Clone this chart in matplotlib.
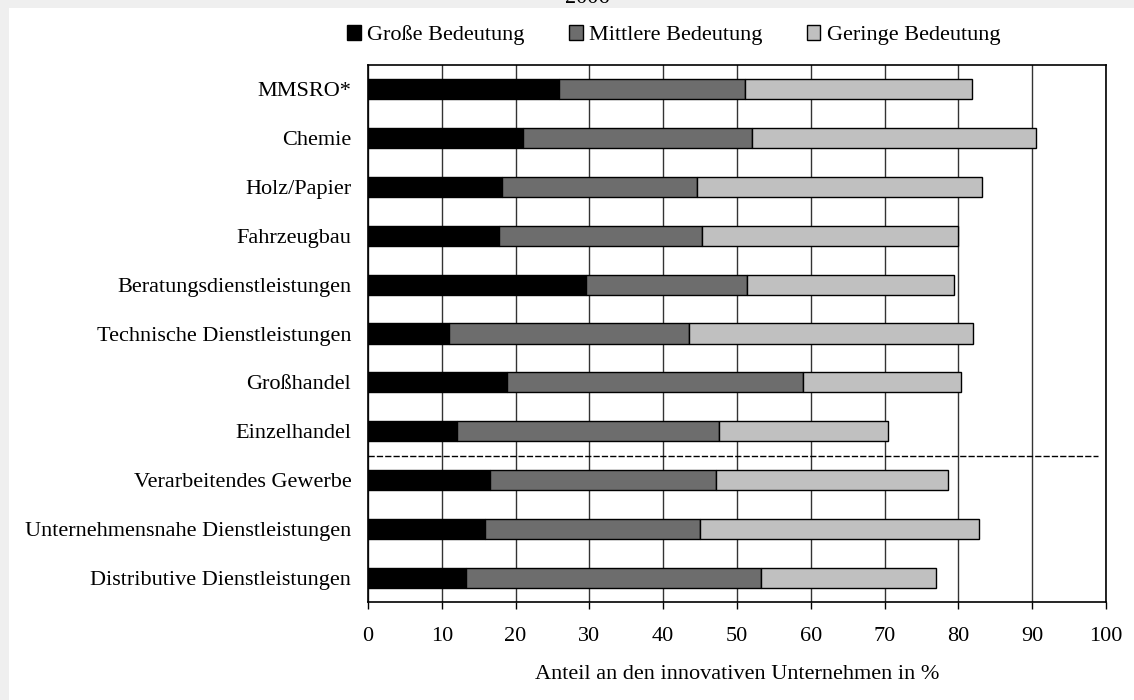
import numpy as np
import matplotlib.pyplot as plt
from matplotlib.patches import Rectangle

# categories from top to bottom
branchen = ['MMSRO*', 'Chemie', 'Holz/Papier', 'Fahrzeugbau',
            'Beratungsdienstleistungen', 'Technische Dienstleistungen',
            'Großhandel', 'Einzelhandel', 'Verarbeitendes Gewerbe',
            'Unternehmensnahe Dienstleistungen', 'Distributive Dienstleistungen']

# shares in %
gross =    [25.9, 21.0, 18.2, 17.7, 29.5, 11.0, 18.8, 12.1, 16.5, 15.9, 13.3]
mittel =   [25.2, 31.1, 26.4, 27.6, 21.8, 32.5, 40.1, 35.5, 30.6, 29.1, 40.0]
gering =   [30.8, 38.4, 38.6, 34.6, 28.1, 38.5, 21.5, 22.9, 31.5, 37.8, 23.7]

serien = ['Große Bedeutung', 'Mittlere Bedeutung', 'Geringe Bedeutung']
farben = ['#000000', '#6d6d6d', '#c0c0c0']

plt.rcParams['font.family'] = ['Liberation Serif', 'DejaVu Serif']
FS = 16

fig = plt.figure(figsize=(11.34, 7.0), dpi=100)
fig.patch.set_facecolor('white')
# light grey strips at the top and left edge
fig.patches.append(Rectangle((0, 1 - 8/700), 1, 8/700, transform=fig.transFigure,
                             facecolor='#efefef', edgecolor='none', zorder=-1))
fig.patches.append(Rectangle((0, 0), 9/1134, 1, transform=fig.transFigure,
                             facecolor='#efefef', edgecolor='none', zorder=-1))
fig.text(587/1134, 1 - 3/700, '2006', ha='center', va='baseline', fontsize=FS, color='black')

ax = fig.add_axes([368/1134, 1 - 602/700, 738/1134, 537/700])

y = np.arange(len(branchen))
links = np.zeros(len(branchen))
for werte, name, farbe in zip([gross, mittel, gering], serien, farben):
    ax.barh(y, werte, left=links, height=0.41, color=farbe, edgecolor='black',
            linewidth=1.0, label=name, zorder=3)
    links = links + np.array(werte)

ax.axhline(7.5, xmin=0, xmax=0.989, color='black', linestyle=(0, (4.5, 1.5)), linewidth=1.0, zorder=4)

ax.set_xlim(0, 100)
ax.set_ylim(len(branchen) - 0.5, -0.5)
ax.set_xticks(np.arange(0, 101, 10))
ax.set_yticks(y)
ax.set_yticklabels(branchen)
ax.tick_params(axis='y', length=0, pad=12, labelsize=FS)
ax.tick_params(axis='x', length=5, width=1, direction='out', pad=13, labelsize=FS)
ax.xaxis.grid(True, color='#333333', linewidth=1.0, zorder=0)
ax.set_axisbelow(True)
for s in ax.spines.values():
    s.set_linewidth(1.2)
    s.set_color('black')

ax.set_xlabel('Anteil an den innovativen Unternehmen in %', fontsize=FS, labelpad=14)

ax.legend(loc='center', bbox_to_anchor=(674/1134, 1 - 35/700), bbox_transform=fig.transFigure,
          ncol=3, frameon=False, fontsize=FS, handlelength=0.6, handleheight=0.65,
          handletextpad=0.3, columnspacing=2.0, borderpad=0)

fig.savefig('out.png', dpi=100)
